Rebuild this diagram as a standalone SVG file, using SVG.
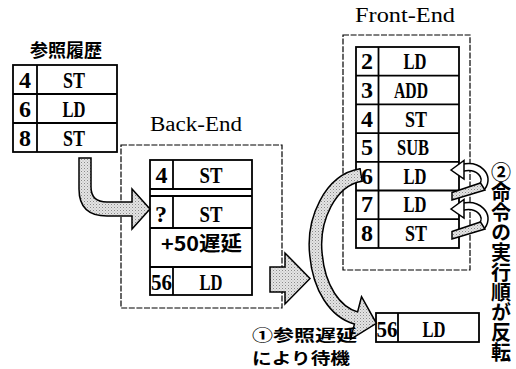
<svg xmlns="http://www.w3.org/2000/svg" width="516" height="369" viewBox="0 0 516 369">
<style>
.box{fill:#fff;stroke:#000;stroke-width:1.8}
.ln{stroke:#000;stroke-width:1.8;fill:none}
.dash{fill:none;stroke:#000;stroke-width:1.2;stroke-dasharray:6 1.6}
.t{font-family:"Liberation Serif",serif;font-weight:bold;font-size:24px;text-anchor:middle}
.lab{font-family:"Liberation Serif",serif;font-size:20px}
.jp{font-family:"Noto Sans CJK JP","Noto Sans",sans-serif;font-weight:bold}
.arr{fill:url(#dots);stroke:#000;stroke-width:1.5;stroke-linejoin:miter}
.wh{fill:#fff;stroke:#000;stroke-width:1.5}
</style>
<defs>
<pattern id="dots" width="3" height="3" patternUnits="userSpaceOnUse">
<rect width="3" height="3" fill="#e4e4e4"/>
<rect width="1" height="1" fill="#8a8a8a"/>
<rect x="1.5" y="1.5" width="1" height="1" fill="#b0b0b0"/>
</pattern>
<g id="loop">
<path d="M462,168 C478,164 490,176 482,187" stroke="#000" stroke-width="8.5" fill="none"/>
<path d="M462,168 C478,164 490,176 482,187" stroke="#fff" stroke-width="5.5" fill="none"/>
<polygon class="arr" points="452,192.5 480.5,183 485,190 452,200"/>
<polygon class="wh" points="451,170 464,160.5 464,179"/>
</g>
</defs>
<rect width="516" height="369" fill="#fff"/>

<g id="history">
<text class="jp" x="66" y="57" font-size="18" text-anchor="middle">参照履歴</text>
<rect class="box" x="13" y="65" width="104" height="87"/>
<line class="ln" x1="13" y1="94" x2="117" y2="94"/>
<line class="ln" x1="13" y1="123" x2="117" y2="123"/>
<line class="ln" x1="37" y1="65" x2="37" y2="152"/>
<text class="t" x="25" y="88">4</text><text class="t" x="74" y="88" textLength="22" lengthAdjust="spacingAndGlyphs">ST</text>
<text class="t" x="25" y="117">6</text><text class="t" x="74" y="117" textLength="23" lengthAdjust="spacingAndGlyphs">LD</text>
<text class="t" x="25" y="146">8</text><text class="t" x="74" y="146" textLength="22" lengthAdjust="spacingAndGlyphs">ST</text>
</g>

<g id="backend">
<text class="lab" x="150" y="131" textLength="92" lengthAdjust="spacingAndGlyphs">Back-End</text>
<rect class="dash" x="121" y="145" width="161" height="163"/>
<rect class="box" x="150" y="160" width="102" height="135"/>
<line class="ln" x1="150" y1="189" x2="252" y2="189"/>
<line class="ln" x1="150" y1="196" x2="252" y2="196" stroke-width="2.4"/>
<line class="ln" x1="150" y1="228" x2="252" y2="228"/>
<line class="ln" x1="150" y1="267" x2="252" y2="267"/>
<line class="ln" x1="173" y1="160" x2="173" y2="189"/>
<line class="ln" x1="173" y1="196" x2="173" y2="228"/>
<line class="ln" x1="173" y1="267" x2="173" y2="295"/>
<text class="t" x="161.5" y="183">4</text><text class="t" x="211" y="183" textLength="23" lengthAdjust="spacingAndGlyphs">ST</text>
<text class="t" x="161" y="222">?</text><text class="t" x="211" y="222" textLength="23" lengthAdjust="spacingAndGlyphs">ST</text>
<text class="jp" x="201.5" y="251" font-size="20" text-anchor="middle" textLength="81" lengthAdjust="spacingAndGlyphs">+50遅延</text>
<text class="t" x="161.5" y="290" textLength="21" lengthAdjust="spacingAndGlyphs">56</text><text class="t" x="211" y="290" textLength="23" lengthAdjust="spacingAndGlyphs">LD</text>
</g>

<g id="frontend">
<text class="lab" x="355" y="22" textLength="100" lengthAdjust="spacingAndGlyphs">Front-End</text>
<rect class="dash" x="343" y="35" width="127" height="235"/>
<rect class="box" x="356" y="47" width="103" height="201"/>
<line class="ln" x1="356" y1="75.7" x2="459" y2="75.7"/>
<line class="ln" x1="356" y1="104.4" x2="459" y2="104.4"/>
<line class="ln" x1="356" y1="133.1" x2="459" y2="133.1"/>
<line class="ln" x1="356" y1="161.8" x2="459" y2="161.8"/>
<line class="ln" x1="356" y1="190.5" x2="459" y2="190.5"/>
<line class="ln" x1="356" y1="219.2" x2="459" y2="219.2"/>
<line class="ln" x1="378.5" y1="47" x2="378.5" y2="248"/>
<text class="t" x="367" y="69">2</text><text class="t" x="415" y="69" textLength="23" lengthAdjust="spacingAndGlyphs">LD</text>
<text class="t" x="367" y="97.5">3</text><text class="t" x="411" y="97.5" textLength="34" lengthAdjust="spacingAndGlyphs">ADD</text>
<text class="t" x="367" y="126.5">4</text><text class="t" x="416" y="126.5" textLength="22" lengthAdjust="spacingAndGlyphs">ST</text>
<text class="t" x="367" y="155">5</text><text class="t" x="413" y="155" textLength="32" lengthAdjust="spacingAndGlyphs">SUB</text>
<text class="t" x="367" y="183.5">6</text><text class="t" x="415" y="183.5" textLength="23" lengthAdjust="spacingAndGlyphs">LD</text>
<text class="t" x="367" y="212">7</text><text class="t" x="415" y="212" textLength="23" lengthAdjust="spacingAndGlyphs">LD</text>
<text class="t" x="367" y="241">8</text><text class="t" x="416" y="241" textLength="22" lengthAdjust="spacingAndGlyphs">ST</text>
</g>

<g id="waiting">
<rect class="box" x="376" y="313" width="103" height="29"/>
<line class="ln" x1="398" y1="313" x2="398" y2="342"/>
<text class="t" x="387" y="337" textLength="21" lengthAdjust="spacingAndGlyphs">56</text><text class="t" x="434" y="337" textLength="23" lengthAdjust="spacingAndGlyphs">LD</text>
</g>

<g id="connectors">
<path class="arr" d="M79,158 H91 V187 Q91,202 107,202 H132 V189 L150,209 L132,229 V216 H107 Q79,216 79,189 Z"/>
<path class="arr" d="M270,267 H285 V253 L310,278.5 L285,304 V292 H270 Z"/>
<path d="M361,175 C330,180 312,220 316,255 C319,288 335,312 356,318" stroke="#000" stroke-width="14" fill="none"/>
<path d="M361,175 C330,180 312,220 316,255 C319,288 335,312 356,318" stroke="url(#dots)" stroke-width="11" fill="none"/>
<line x1="360" y1="168" x2="362.2" y2="182" stroke="#000" stroke-width="1.5"/>
<polygon class="arr" points="361.5,296.7 376.4,323.3 350.5,339.3"/>
<path d="M355,317.7 L359,318.7" stroke="url(#dots)" stroke-width="11" fill="none"/>
<use href="#loop"/>
<use href="#loop" transform="translate(0,39)"/>
</g>

<g id="labels">
<text class="jp" x="252" y="341.4" font-size="15.8" textLength="105" lengthAdjust="spacingAndGlyphs">①参照遅延</text>
<text class="jp" x="252" y="364.3" font-size="15.8" textLength="98" lengthAdjust="spacingAndGlyphs">により待機</text>
<text class="jp" x="501" y="162" font-size="20" style="writing-mode:vertical-rl">②命令の実行順が反転</text>
</g>
</svg>
